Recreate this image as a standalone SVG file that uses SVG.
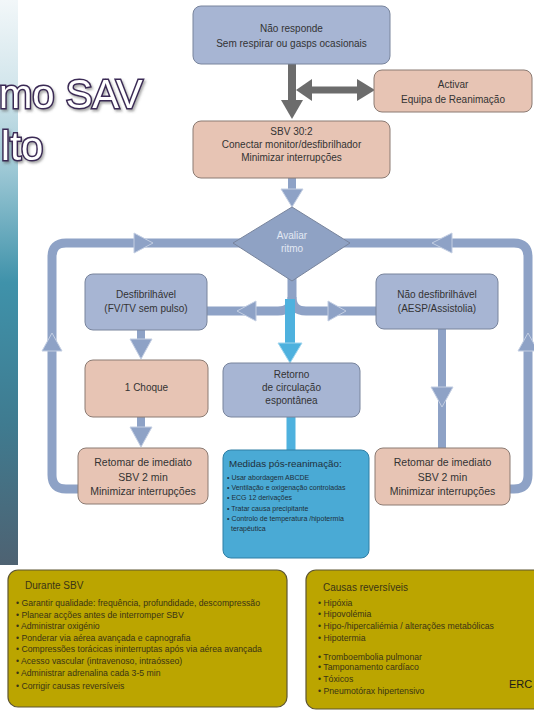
<svg xmlns="http://www.w3.org/2000/svg" width="534" height="710" viewBox="0 0 534 710">
<defs>
<linearGradient id="bar" x1="0" y1="0" x2="0" y2="1">
<stop offset="0" stop-color="#f2f7f9"/>
<stop offset="0.15" stop-color="#d3e6ec"/>
<stop offset="0.3" stop-color="#9dc8d5"/>
<stop offset="0.5" stop-color="#3f92aa"/>
<stop offset="0.75" stop-color="#3f7b90"/>
<stop offset="1" stop-color="#4e6272"/>
</linearGradient>
<filter id="sh" x="-10%" y="-10%" width="130%" height="140%">
<feDropShadow dx="1.5" dy="2" stdDeviation="1" flood-color="#555" flood-opacity="0.5"/>
</filter>
<style>
.t{font-family:"Liberation Sans",Arial,sans-serif;fill:#333;text-anchor:middle}
.n{font-size:10px}
.r{font-size:10.5px}
.blue{fill:#a7b5d3;stroke:#78849c;stroke-width:1}
.sal{fill:#e7c4b4;stroke:#8b7b73;stroke-width:1}
.loop{fill:none;stroke:#8ea2c6;stroke-width:9}
.head{fill:#8ea2c6;stroke:#c3cee2;stroke-width:1}
.dark{fill:#6c6c6c}
.cy{fill:#4eb1de}
.panel{fill:#bba500;stroke:#5e5631;stroke-width:1.2}
.pt{font-family:"Liberation Sans",Arial,sans-serif;fill:#3a3416;font-size:8.7px}
.mt{font-family:"Liberation Sans",Arial,sans-serif;fill:#1f2f3a;font-size:7px}
.title{font-family:"Liberation Sans",Arial,sans-serif;font-size:40px;fill:#ffffff;stroke:#3b2a55;stroke-width:3;paint-order:stroke}
</style>
</defs>
<rect x="0" y="0" width="534" height="710" fill="#ffffff"/>
<rect x="0" y="0" width="18" height="565" fill="url(#bar)"/>
<g id="title" filter="url(#sh)">
<text class="title" x="-1" y="108">mo SAV</text>
<text class="title" x="1" y="160">lto</text>
</g>

<g id="connectors">
<rect class="dark" x="288" y="63" width="8" height="38"/>
<polygon class="dark" points="281,100 303,100 292,119"/>
<rect class="dark" x="310" y="86.5" width="48" height="7"/>
<polygon class="dark" points="296,90 312,79 312,101"/>
<polygon class="dark" points="375,90 357,79 357,101"/>
<rect fill="#8ea2c6" x="288" y="178" width="8" height="13"/>
<polygon class="head" points="281,189 303,189 292,207"/>
<path class="loop" d="M240,243 H66 Q52,243 52,257 V475 Q52,489 66,489 H80"/>
<path class="loop" d="M344,243 H514 Q528,243 528,257 V475 Q528,489 514,489 H508"/>
<path class="loop" d="M292,276 V297 Q292,311 278,311 H206"/>
<path class="loop" d="M292,297 Q292,311 306,311 H378"/>
<rect class="cy" x="285" y="299" width="10" height="46"/>
<polygon fill="#4eb1de" stroke="#9fd5ee" stroke-width="1" points="278,343 302,343 290,363"/>
<rect class="cy" x="286.5" y="416" width="9" height="35"/>
<polygon class="head" points="153,243 134,233 134,253"/>
<polygon class="head" points="432,243 452,233 452,253"/>
<polygon class="head" points="52,333 42,351 62,351"/>
<polygon class="head" points="528,333 518,351 538,351"/>
<polygon class="head" points="237,311 256,301 256,321"/>
<polygon class="head" points="346,311 328,301 328,321"/>
<rect fill="#8ea2c6" x="137" y="329" width="8" height="11"/>
<polygon class="head" points="130,339 152,339 141,359"/>
<rect fill="#8ea2c6" x="137" y="416" width="8" height="12"/>
<polygon class="head" points="130,427 152,427 141,447"/>
<rect fill="#8ea2c6" x="438" y="328" width="8" height="121"/>
<polygon class="head" points="431,387 453,387 442,407"/>
</g>

<g id="n1">
<rect class="blue" x="193" y="6" width="197" height="58" rx="8"/>
<text class="t n" x="291.5" y="31.5">Não responde</text>
<text class="t n" x="291.5" y="47">Sem respirar ou gasps ocasionais</text>
</g>
<g id="activar">
<rect class="sal" x="374" y="70" width="158" height="42" rx="8"/>
<text class="t n" x="453" y="88">Activar</text>
<text class="t n" x="453" y="103">Equipa de Reanimação</text>
</g>
<g id="sbv">
<rect class="sal" x="193" y="121" width="197" height="57" rx="8"/>
<text class="t n" x="291.5" y="135">SBV 30:2</text>
<text class="t n" x="291.5" y="148">Conectar monitor/desfibrilhador</text>
<text class="t n" x="291.5" y="161">Minimizar interrupções</text>
</g>
<g id="avaliar">
<polygon fill="#8fa2c4" stroke="#78849c" stroke-width="1" points="292,207 350,243 292,281 233,243"/>
<text class="t n" style="fill:#e2e8f3" x="292" y="239">Avaliar</text>
<text class="t n" style="fill:#e2e8f3" x="292" y="252">ritmo</text>
</g>
<g id="desfib">
<rect class="blue" x="85" y="274" width="122" height="56" rx="8"/>
<text class="t n" x="146" y="298">Desfibrilhável</text>
<text class="t n" x="146" y="312">(FV/TV sem pulso)</text>
</g>
<g id="naodesfib">
<rect class="blue" x="376" y="274" width="122" height="55" rx="8"/>
<text class="t n" x="437" y="298">Não desfibrilhável</text>
<text class="t n" x="437" y="312">(AESP/Assistolia)</text>
</g>
<g id="choque">
<rect class="sal" x="85" y="360" width="123" height="57" rx="8"/>
<text class="t n" x="146.5" y="391">1 Choque</text>
</g>
<g id="retorno">
<rect class="blue" x="223" y="363" width="137" height="54" rx="8"/>
<text class="t n" x="291.5" y="378">Retorno</text>
<text class="t n" x="291.5" y="391">de circulação</text>
<text class="t n" x="291.5" y="404">espontânea</text>
</g>
<g id="retomarL">
<rect class="sal" x="78" y="448" width="130" height="56" rx="8"/>
<text class="t r" x="143" y="466">Retomar de imediato</text>
<text class="t r" x="143" y="481">SBV 2 min</text>
<text class="t r" x="143" y="495">Minimizar interrupções</text>
</g>
<g id="retomarR">
<rect class="sal" x="375" y="448" width="135" height="57" rx="8"/>
<text class="t r" x="442.5" y="466">Retomar de imediato</text>
<text class="t r" x="442.5" y="481">SBV 2 min</text>
<text class="t r" x="442.5" y="495">Minimizar interrupções</text>
</g>
<g id="medidas">
<rect x="223" y="450" width="146" height="108" rx="8" fill="#4aaad5" stroke="#2f7fa5" stroke-width="1"/>
<text x="229" y="466.5" style="font-family:'Liberation Sans',Arial,sans-serif;font-size:9.8px;fill:#1f2f3a">Medidas pós-reanimação:</text>
<text class="mt" x="227" y="480">• Usar abordagem ABCDE</text>
<text class="mt" x="227" y="490">• Ventilação e oxigenação controladas</text>
<text class="mt" x="227" y="500">• ECG 12 derivações</text>
<text class="mt" x="227" y="511">• Tratar causa precipitante</text>
<text class="mt" x="227" y="521">• Controlo de temperatura /hipotermia</text>
<text class="mt" x="231" y="531">terapêutica</text>
</g>
<g id="durante">
<rect class="panel" x="8" y="570" width="279" height="137" rx="10"/>
<text x="25" y="589" style="font-family:'Liberation Sans',Arial,sans-serif;font-size:10px;fill:#3a3416">Durante SBV</text>
<text class="pt" x="16" y="606">• Garantir qualidade: frequência, profundidade, descompressão</text>
<text class="pt" x="16" y="617.5">• Planear acções antes de interromper SBV</text>
<text class="pt" x="16" y="629">• Administrar oxigénio</text>
<text class="pt" x="16" y="640.5">• Ponderar via aérea avançada e capnografia</text>
<text class="pt" x="16" y="652">• Compressões torácicas ininterruptas após via aérea avançada</text>
<text class="pt" x="16" y="664">• Acesso vascular (intravenoso, intraósseo)</text>
<text class="pt" x="16" y="676">• Administrar adrenalina cada 3-5 min</text>
<text class="pt" x="16" y="689">• Corrigir causas reversíveis</text>
</g>
<g id="causas">
<rect class="panel" x="306" y="570" width="240" height="139" rx="10"/>
<text x="323" y="591" style="font-family:'Liberation Sans',Arial,sans-serif;font-size:10px;fill:#3a3416">Causas reversíveis</text>
<text class="pt" x="318" y="606">• Hipóxia</text>
<text class="pt" x="318" y="617">• Hipovolémia</text>
<text class="pt" x="318" y="629">• Hipo-/hipercaliémia / alterações metabólicas</text>
<text class="pt" x="318" y="641">• Hipotermia</text>
<text class="pt" x="318" y="660">• Tromboembolia pulmonar</text>
<text class="pt" x="318" y="670">• Tamponamento cardíaco</text>
<text class="pt" x="318" y="682">• Tóxicos</text>
<text class="pt" x="318" y="694">• Pneumotórax hipertensivo</text>
<text x="509" y="688" style="font-family:'Liberation Sans',Arial,sans-serif;font-size:11px;fill:#1a1a1a">ERC</text>
</g>
</svg>
